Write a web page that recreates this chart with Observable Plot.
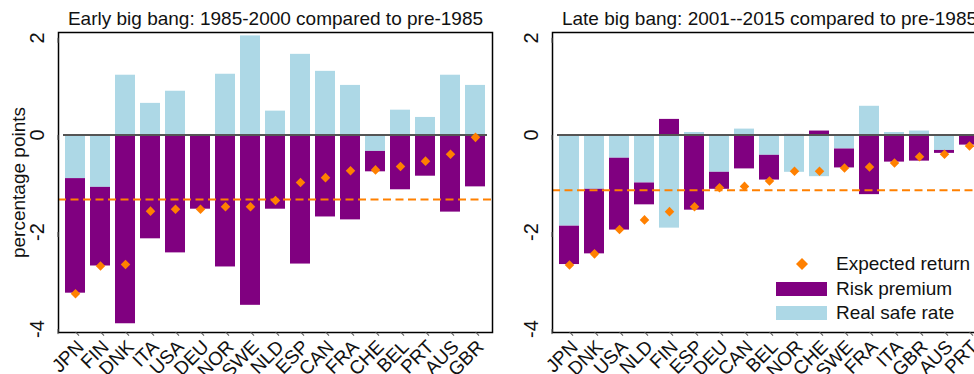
<!DOCTYPE html>
<html>
<head>
<meta charset="utf-8">
<script src="https://cdn.jsdelivr.net/npm/d3@7"></script>
<script src="https://cdn.jsdelivr.net/npm/@observablehq/plot@0.6"></script>
<style>
  html, body { margin: 0; padding: 0; background: #fff; overflow: hidden; }
  #wrap { position: relative; width: 990px; height: 374px; font-family: "Liberation Sans", Arial, sans-serif; }
  #wrap > div.panel { position: absolute; top: 0; }
  #legend { position: absolute; left: 776px; top: 252px; font-size: 19px; color: #111; }
  #legend .row { display: flex; align-items: center; height: 24.5px; }
  #legend .sw { width: 51px; height: 14px; margin-right: 9px; display: flex; justify-content: center; align-items: center; }
</style>
</head>
<body>
<div id="wrap">
  <div class="panel" id="p1" style="left:0px"></div>
  <div class="panel" id="p2" style="left:494px"></div>
  <div id="legend"></div>
</div>
<script>
// ---- Data ----
const earlyTitle = "Early big bang: 1985-2000 compared to pre-1985";
const earlyCountries = ["JPN","FIN","DNK","ITA","USA","DEU","NOR","SWE","NLD","ESP","CAN","FRA","CHE","BEL","PRT","AUS","GBR"];
const earlySafe     = [-0.90,-1.08, 1.23, 0.65, 0.90, 0.01, 1.25, 2.04, 0.49, 1.66, 1.31, 1.02,-0.34, 0.51, 0.36, 1.23, 1.02];
const earlyRisk     = [-2.36,-1.62,-3.89,-2.14,-2.43,-1.53,-2.72,-3.51,-1.53,-2.66,-1.69,-1.75,-0.42,-1.13,-0.85,-1.59,-1.07];
const earlyExpected = [-3.27,-2.70,-2.67,-1.57,-1.53,-1.53,-1.48,-1.48,-1.35,-0.98,-0.88,-0.74,-0.72,-0.65,-0.54,-0.40,-0.05];
const earlyMean = -1.33;

const lateTitle = "Late big bang: 2001--2015 compared to pre-1985";
const lateCountries = ["JPN","DNK","USA","NLD","FIN","ESP","DEU","CAN","BEL","NOR","CHE","SWE","FRA","ITA","GBR","AUS","PRT"];
const lateSafe     = [-1.88,-1.12,-0.48,-0.99,-1.92, 0.05,-0.77, 0.12,-0.42,-0.77,-0.86,-0.29, 0.59, 0.05, 0.08,-0.32, 0.00];
const lateRisk     = [-0.79,-1.33,-1.48,-0.45, 0.32,-1.55,-0.35,-0.70,-0.51, 0.01, 0.08,-0.39,-1.23,-0.56,-0.54,-0.06,-0.21];
const lateExpected = [-2.68,-2.45,-1.95,-1.75,-1.58,-1.48,-1.09,-1.06,-0.95,-0.75,-0.75,-0.68,-0.66,-0.58,-0.45,-0.40,-0.23];
const lateMean = -1.14;

const yTicks = [-4, -2, 0, 2];
const yLabel = "percentage points";
const seriesNames = ["Real safe rate", "Risk premium"];
const legendLabels = ["Expected return", "Risk premium", "Real safe rate"];

const colSafe = "#ADD8E6";
const colRisk = "#800080";
const colExp = "#FF8000";
const font = "Liberation Sans, Arial, sans-serif";

function panel(title, countries, safe, risk, expected, mean, showYLabel) {
  const bars = [];
  countries.forEach((c, i) => {
    bars.push({country: c, series: seriesNames[0], value: safe[i]});
    bars.push({country: c, series: seriesNames[1], value: risk[i]});
  });
  const pts = countries.map((c, i) => ({country: c, value: expected[i]}));
  return Plot.plot({
    width: 494,
    height: 374,
    marginLeft: 58,
    marginRight: 2,
    marginTop: 32,
    marginBottom: 42,
    style: {fontFamily: font, fontSize: "19px", color: "#111", background: "transparent", overflow: "visible"},
    x: {domain: countries, paddingInner: 0.22, paddingOuter: 0.29, label: null},
    y: {domain: [-4.07, 2.11], label: null},
    color: {domain: seriesNames, range: [colSafe, colRisk]},
    marks: [
      Plot.barY(bars, Plot.stackY({order: null}, {x: "country", y: "value", fill: "series", z: "series"})),
      Plot.ruleY([mean], {stroke: colExp, strokeWidth: 2, strokeDasharray: "8,4.5"}),
      Plot.ruleY([0], {stroke: "#555", strokeWidth: 2, insetLeft: 5, insetRight: 5}),
      Plot.dot(pts, {x: "country", y: "value", symbol: "diamond2", r: 4.3, fill: colExp, stroke: null}),
      Plot.frame({stroke: "#000", strokeWidth: 1.5}),
      Plot.axisY({ticks: yTicks, tickFormat: d => String(d), tickSize: 5, tickPadding: 15.5, stroke: "#555",
        rotate: -90, textAnchor: "middle", lineAnchor: "middle", fontSize: 20, label: null}),
      Plot.axisX({tickSize: 5, tickPadding: 1, stroke: "#555", rotate: -45, textAnchor: "end", fontSize: 19, label: null}),
      Plot.text([title], {frameAnchor: "top", dy: -8, lineAnchor: "bottom", fontSize: 19, fill: "#111"}),
      ...(showYLabel ? [Plot.text([yLabel], {frameAnchor: "left", dx: -40, rotate: -90, textAnchor: "middle", fontSize: 19, fill: "#111"})] : [])
    ]
  });
}

document.getElementById("p1").appendChild(panel(earlyTitle, earlyCountries, earlySafe, earlyRisk, earlyExpected, earlyMean, true));
document.getElementById("p2").appendChild(panel(lateTitle, lateCountries, lateSafe, lateRisk, lateExpected, lateMean, false));

// Legend
const lg = document.getElementById("legend");
const swatches = [
  `<svg width="12" height="12"><path d="M6,0L12,6L6,12L0,6Z" fill="${colExp}"/></svg>`,
  `<div style="width:51px;height:14px;background:${colRisk}"></div>`,
  `<div style="width:51px;height:14px;background:${colSafe}"></div>`
];
legendLabels.forEach((t, i) => {
  const row = document.createElement("div");
  row.className = "row";
  row.innerHTML = `<div class="sw">${swatches[i]}</div><span>${t}</span>`;
  lg.appendChild(row);
});
</script>
</body>
</html>
